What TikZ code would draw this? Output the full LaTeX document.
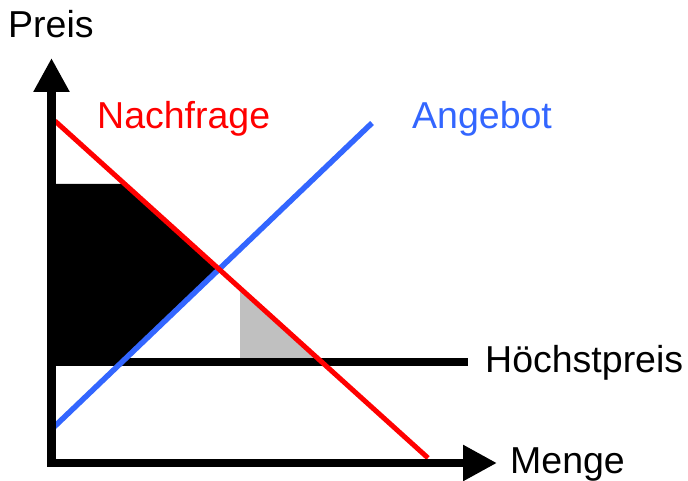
\documentclass[tikz,border=0pt]{standalone}
\usepackage{fontspec}
\setmainfont{Liberation Sans}
\usepackage{xcolor}
\usepackage{tikz}
\usetikzlibrary{arrows.meta, positioning, calc}

\definecolor{supplyblue}{RGB}{51,102,255}
\definecolor{lossgray}{RGB}{192,192,192}

\begin{document}
\begin{tikzpicture}[
    x=1pt, y=-1pt,
    lbl/.style={anchor=base west, inner sep=0pt, font=\fontsize{37.5}{42}\selectfont, text=#1},
    lbl/.default=black,
    axis/.style={line width=8.5pt, {Triangle[width=34pt, length=34pt]}-{Triangle[width=34pt, length=34pt]}, line join=miter},
    curve/.style={line width=#1},
    curve/.default=5pt,
    >=Stealth
]
\useasboundingbox (0,0) rectangle (688,481);

% Key points
\coordinate (ytip) at (51.5,58);
\coordinate (origin) at (51.5,463);
\coordinate (xtip) at (497,463);
\coordinate (d0) at (55,121);
\coordinate (d1) at (428,458);
\coordinate (s0) at (54,427);
\coordinate (s1) at (372,123);
\coordinate (c0) at (51.5,362);
\coordinate (c1) at (468,362);

% Areas (below the lines)
\coordinate (eq) at (intersection of d0--d1 and s0--s1);
\coordinate (ptop) at (intersection of d0--d1 and {(0,184)}--{(600,184)});
\coordinate (pbot) at (intersection of s0--s1 and {(0,358.5)}--{(600,358.5)});
\coordinate (gtop) at (intersection of d0--d1 and {(240,0)}--{(240,400)});
\coordinate (gbot) at (intersection of d0--d1 and {(0,358.5)}--{(600,358.5)});
\fill[black] (51.5,184) -- (ptop) -- (eq) -- (pbot) -- (51.5,358.5) -- cycle;
\fill[lossgray] (gtop) -- (240,358.5) -- (gbot) -- cycle;

% Price ceiling
\draw[line width=7.5pt] (c0) -- (c1);

% Supply and demand
\draw[curve=5.5pt, supplyblue] (s0) -- (s1);
\draw[curve, red] (d0) -- (d1);

% Axes
\draw[axis] (ytip) -- (origin) -- (xtip);

% Labels
\node[lbl] (preis) at (8,38) {Preis};
\node[lbl] (menge) at (510,473) {Menge};
\node[lbl=red] (nachfrage) at (97,129) {Nachfrage};
\node[lbl=supplyblue] (angebot) at (412,129) {Angebot};
\node[lbl] (hoechst) at (485,372) {Höchstpreis};

\end{tikzpicture}
\end{document}
